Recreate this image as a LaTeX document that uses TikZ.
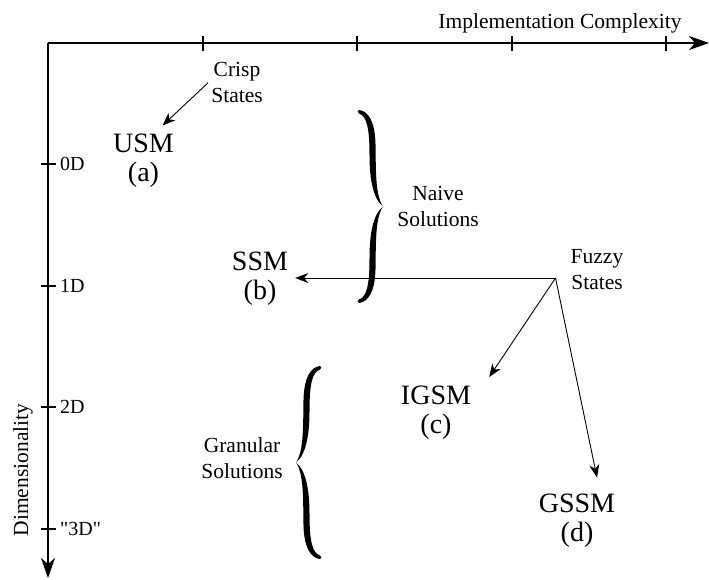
\documentclass[tikz,border=0pt]{standalone}
\usepackage{fontspec}
\setmainfont{Liberation Serif}
\usetikzlibrary{arrows.meta,calc}
\begin{document}
\begin{tikzpicture}[x=1pt,y=-1pt,
  axisline/.style={line width=1.8pt,-{Stealth[length=20pt,width=14pt,inset=6pt]}},
  tickmark/.style={line width=1.2pt},
  pointer/.style={line width=0.9pt,-{Stealth[length=13pt,width=10pt,inset=4pt]}},
  model/.style={font=\fontsize{28}{29}\selectfont,align=center,inner sep=0pt},
  note/.style={font=\fontsize{21.5}{26}\selectfont,align=center,inner sep=0pt},
  ticklabel/.style={font=\fontsize{20}{24}\selectfont,anchor=west,inner sep=0pt},
  curly/.pic={
    % upper half of a tapered curly brace, tip pointing to +x
    \fill (0,1) .. controls (9,2) and (16,12) .. (16.5,35)
      .. controls (17,60) and (16,86) .. (24,97.5)
      .. controls (13,89) and (10.5,66) .. (10.5,46)
      .. controls (10.5,20) and (8,7) .. (0,4.5)
      .. controls (-1.8,3.6) and (-1.8,1.6) .. (0,1) -- cycle;
    % lower half, mirrored
    \fill (0,194) .. controls (9,193) and (16,183) .. (16.5,160)
      .. controls (17,135) and (16,109) .. (24,97.5)
      .. controls (13,106) and (10.5,129) .. (10.5,149)
      .. controls (10.5,175) and (8,188) .. (0,190.5)
      .. controls (-1.8,191.4) and (-1.8,193.4) .. (0,194) -- cycle;
  }
]
\useasboundingbox (0,0) rectangle (709,579);

% axes
\coordinate (origin) at (48,43);
\coordinate (xend) at (709,43);
\coordinate (yend) at (48,578);
\draw[axisline] (origin) -- (xend);
\draw[axisline] (origin) -- (yend);
\foreach \x in {203,357,512,666}
  \draw[tickmark] (\x,36) -- (\x,51);
\foreach \y/\lab [count=\i] in {164/0D,286/1D,407/2D,529/\textquotedbl 3D\textquotedbl} {
  \draw[tickmark] (40.5,\y) -- (55.5,\y);
  \node[ticklabel] (dim\i) at (60,\y) {\lab};
}
\node[note,anchor=base] (xlabel) at (560,28) {Implementation Complexity};
\node[note,rotate=90] (ylabel) at (23,470) {Dimensionality};

% models
\node[model] (usm)  at (143.5,160.5) {USM\\(a)};
\node[model] (ssm)  at (260,279)   {SSM\\(b)};
\node[model] (igsm) at (436,413)   {IGSM\\(c)};
\node[model] (gssm) at (577,521)   {GSSM\\(d)};

% annotations
\node[note] (crisp)    at (237,82.7) {Crisp\\States};
\node[note] (fuzzy)    at (597,270)  {Fuzzy\\States};
\node[note] (naive)    at (438,206)  {Naive\\Solutions};
\node[note] (granular) at (242,458)  {Granular\\Solutions};

% braces
\pic at (359,109) {curly};
\pic[xscale=-1] at (320,365) {curly};

% pointers
\draw[pointer] ($(crisp.west)+(-3,0)$) -- ($(usm.north)+(19,-8)$);
\coordinate (fz) at ($(fuzzy.west)+(-15,8)$);
\draw[pointer] (fz) -- ($(fz -| ssm.east)+(7,0)$);
\draw[pointer] (fz) -- ($(igsm.north east)+(18,-9)$);
\draw[pointer] (fz) -- ($(gssm.north)+(20,-16.5)$);
\end{tikzpicture}
\end{document}
